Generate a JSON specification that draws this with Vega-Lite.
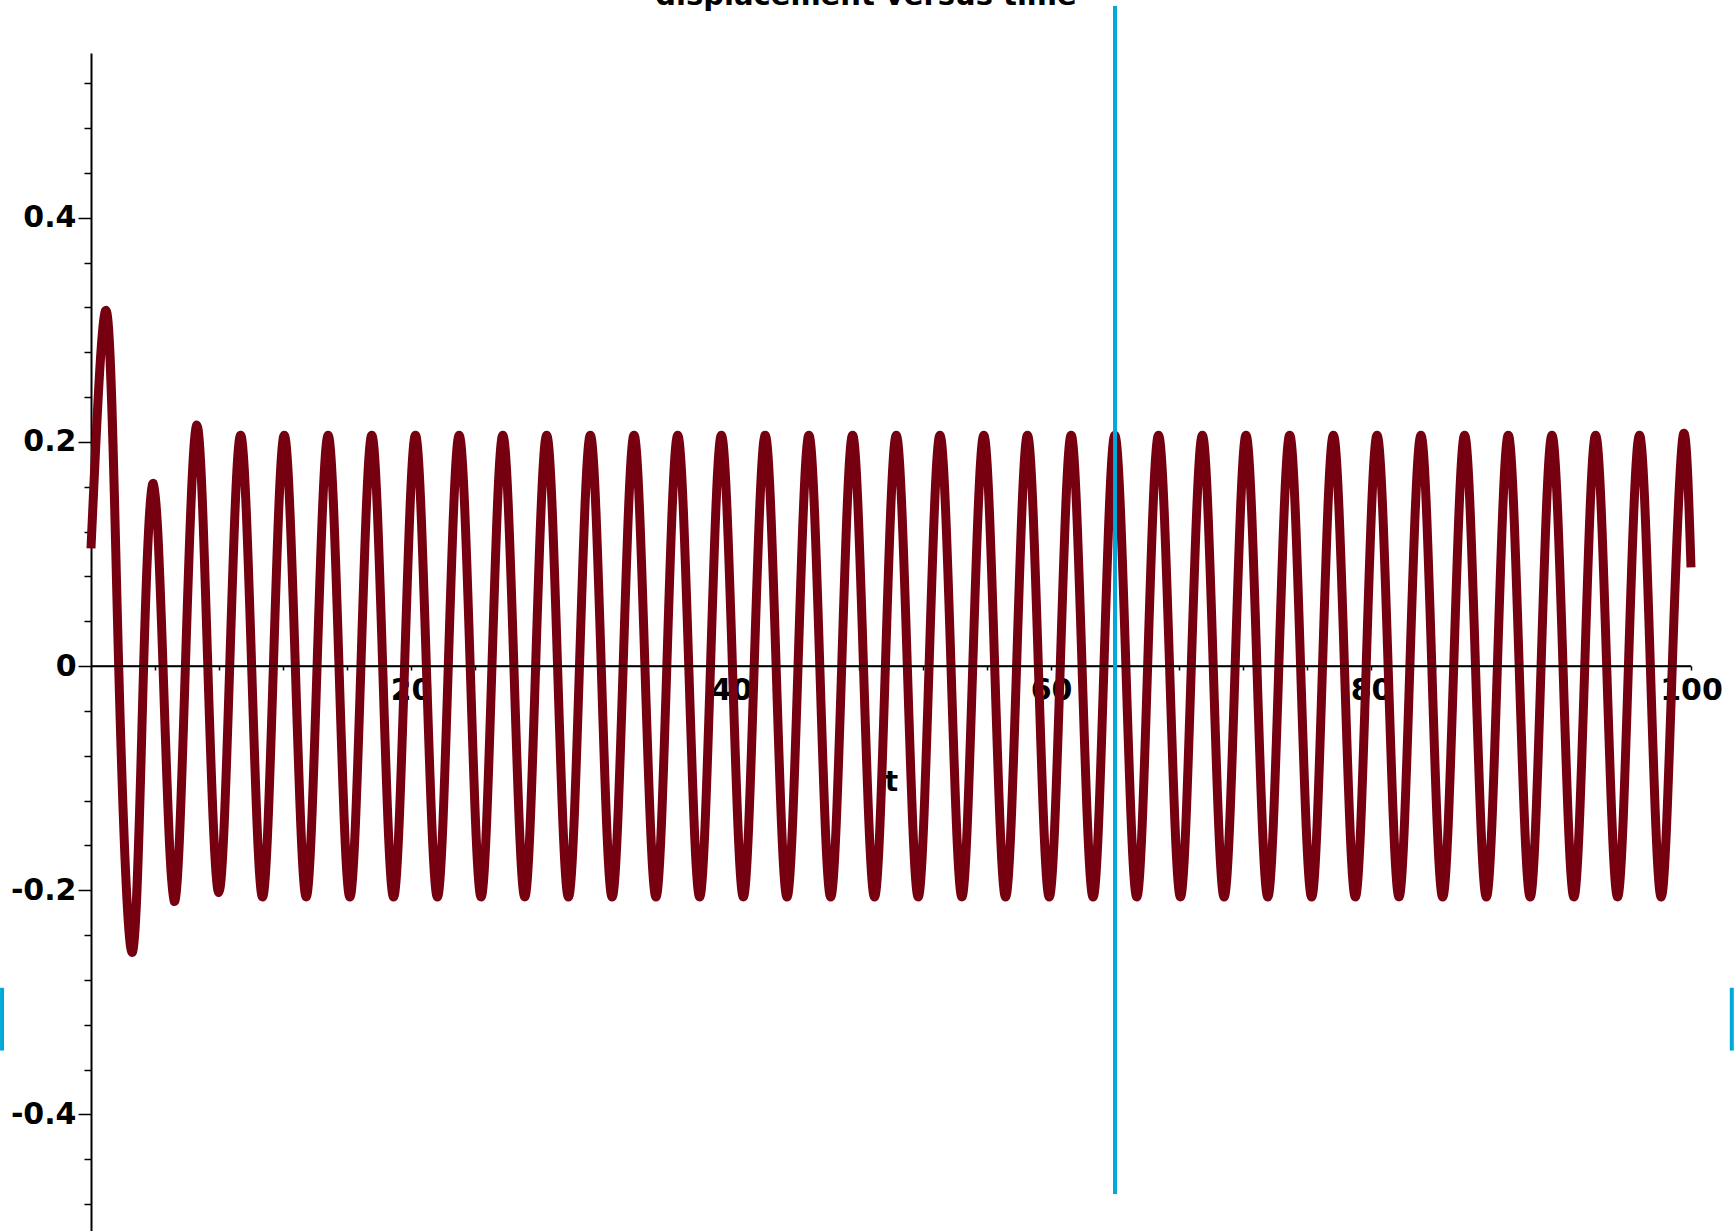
{
  "$schema": "https://vega.github.io/schema/vega-lite/v6.json",
  "width": 1600,
  "height": 1178,
  "autosize": {"type": "none"},
  "padding": {"left": 91, "top": 53, "right": 43, "bottom": 0},
  "background": "white",
  "config": {
    "view": {"stroke": null},
    "axis": {
      "labelFont": "DejaVu Sans", "labelFontWeight": "bold", "labelFontSize": 30, "labelColor": "black",
      "domainColor": "black", "tickColor": "black", "grid": false,
      "titleFont": "DejaVu Sans", "titleFontWeight": "bold", "titleFontSize": 28, "titleColor": "black"
    }
  },
  "title": {
    "text": "displacement versus time", "font": "DejaVu Sans", "fontWeight": "bold", "fontSize": 29,
    "color": "black", "anchor": "middle", "frame": "group", "baseline": "alphabetic", "offset": 0, "dx": -25, "dy": 30
  },
  "datasets": {
    "curve": [
      {"t":0,"y":0.105},{"t":1.0,"y":0.315},{"t":1.73,"y":0},{"t":2.6,"y":-0.255},{"t":3.29,"y":0},{"t":3.9,"y":0.163},{"t":4.5,"y":0},{"t":5.2,"y":-0.21},{"t":5.9,"y":0},
      {"t":6.62,"y":0.215},{"t":7.3,"y":0},{"t":7.99,"y":-0.202},{"t":8.67,"y":0},
      {"t":9.35,"y":0.206},{"t":10.04,"y":0},{"t":10.72,"y":-0.206},{"t":11.40,"y":0},
      {"t":12.08,"y":0.206},{"t":12.77,"y":0},{"t":13.45,"y":-0.206},{"t":14.13,"y":0},
      {"t":14.82,"y":0.206},{"t":15.50,"y":0},{"t":16.18,"y":-0.206},{"t":16.87,"y":0},
      {"t":17.55,"y":0.206},{"t":18.23,"y":0},{"t":18.91,"y":-0.206},{"t":19.60,"y":0},
      {"t":20.28,"y":0.206},{"t":20.96,"y":0},{"t":21.65,"y":-0.206},{"t":22.33,"y":0},
      {"t":23.01,"y":0.206},{"t":23.70,"y":0},{"t":24.38,"y":-0.206},{"t":25.06,"y":0},
      {"t":25.74,"y":0.206},{"t":26.43,"y":0},{"t":27.11,"y":-0.206},{"t":27.79,"y":0},
      {"t":28.48,"y":0.206},{"t":29.16,"y":0},{"t":29.84,"y":-0.206},{"t":30.53,"y":0},
      {"t":31.21,"y":0.206},{"t":31.89,"y":0},{"t":32.57,"y":-0.206},{"t":33.26,"y":0},
      {"t":33.94,"y":0.206},{"t":34.62,"y":0},{"t":35.31,"y":-0.206},{"t":35.99,"y":0},
      {"t":36.67,"y":0.206},{"t":37.36,"y":0},{"t":38.04,"y":-0.206},{"t":38.72,"y":0},
      {"t":39.40,"y":0.206},{"t":40.09,"y":0},{"t":40.77,"y":-0.206},{"t":41.45,"y":0},
      {"t":42.14,"y":0.206},{"t":42.82,"y":0},{"t":43.50,"y":-0.206},{"t":44.19,"y":0},
      {"t":44.87,"y":0.206},{"t":45.55,"y":0},{"t":46.23,"y":-0.206},{"t":46.92,"y":0},
      {"t":47.60,"y":0.206},{"t":48.28,"y":0},{"t":48.97,"y":-0.206},{"t":49.65,"y":0},
      {"t":50.33,"y":0.206},{"t":51.02,"y":0},{"t":51.70,"y":-0.206},{"t":52.38,"y":0},
      {"t":53.06,"y":0.206},{"t":53.75,"y":0},{"t":54.43,"y":-0.206},{"t":55.11,"y":0},
      {"t":55.80,"y":0.206},{"t":56.48,"y":0},{"t":57.16,"y":-0.206},{"t":57.85,"y":0},
      {"t":58.53,"y":0.206},{"t":59.21,"y":0},{"t":59.89,"y":-0.206},{"t":60.58,"y":0},
      {"t":61.26,"y":0.206},{"t":61.94,"y":0},{"t":62.63,"y":-0.206},{"t":63.31,"y":0},
      {"t":63.99,"y":0.206},{"t":64.68,"y":0},{"t":65.36,"y":-0.206},{"t":66.04,"y":0},
      {"t":66.72,"y":0.206},{"t":67.41,"y":0},{"t":68.09,"y":-0.206},{"t":68.77,"y":0},
      {"t":69.46,"y":0.206},{"t":70.14,"y":0},{"t":70.82,"y":-0.206},{"t":71.51,"y":0},
      {"t":72.19,"y":0.206},{"t":72.87,"y":0},{"t":73.55,"y":-0.206},{"t":74.24,"y":0},
      {"t":74.92,"y":0.206},{"t":75.60,"y":0},{"t":76.29,"y":-0.206},{"t":76.97,"y":0},
      {"t":77.65,"y":0.206},{"t":78.34,"y":0},{"t":79.02,"y":-0.206},{"t":79.70,"y":0},
      {"t":80.38,"y":0.206},{"t":81.07,"y":0},{"t":81.75,"y":-0.206},{"t":82.43,"y":0},
      {"t":83.12,"y":0.206},{"t":83.80,"y":0},{"t":84.48,"y":-0.206},{"t":85.17,"y":0},
      {"t":85.85,"y":0.206},{"t":86.53,"y":0},{"t":87.21,"y":-0.206},{"t":87.90,"y":0},
      {"t":88.58,"y":0.206},{"t":89.26,"y":0},{"t":89.95,"y":-0.206},{"t":90.63,"y":0},
      {"t":91.31,"y":0.206},{"t":92.00,"y":0},{"t":92.68,"y":-0.206},{"t":93.36,"y":0},
      {"t":94.04,"y":0.206},{"t":94.73,"y":0},{"t":95.41,"y":-0.206},{"t":96.09,"y":0},
      {"t":96.78,"y":0.206},{"t":97.46,"y":0},{"t":98.14,"y":-0.206},{"t":98.83,"y":0},
      {"t":99.51,"y":0.206},{"t":100,"y":0.088}
    ],
    "zeroline": [{"t":0,"t2":100,"y":0}],
    "cursor": [
      {"t":64.0,"y":0.589,"y2":-0.471},
      {"t":-5.56,"y":-0.287,"y2":-0.343},
      {"t":102.55,"y":-0.287,"y2":-0.343}
    ]
  },
  "layer": [
    {
      "data": {"name": "curve"},
      "mark": {"type": "line", "color": "#76000F", "strokeWidth": 9, "interpolate": "natural", "strokeJoin": "round"},
      "encoding": {
        "x": {
          "field": "t", "type": "quantitative",
          "scale": {"domain": [0, 100], "nice": false, "zero": false},
          "axis": {
            "orient": "bottom", "offset": -565,
            "values": [4,8,12,16,20,24,28,32,36,40,44,48,52,56,60,64,68,72,76,80,84,88,92,96,100],
            "labelExpr": "datum.value % 20 == 0 ? datum.label : ''",
            "tickSize": 4, "tickWidth": 1.5, "domainWidth": 1.5,
            "labelPadding": 5, "labelBaseline": "top", "labelFlush": false, "labelOverlap": false,
            "title": "t", "titleX": 800, "titleY": 124, "titleBaseline": "alphabetic", "titleAnchor": "middle", "titleAlign": "center",
            "zindex": 0
          }
        },
        "y": {
          "field": "y", "type": "quantitative",
          "scale": {"domain": [-0.504, 0.547], "nice": false, "zero": false},
          "axis": {
            "orient": "left",
            "values": [-0.48,-0.44,-0.4,-0.36,-0.32,-0.28,-0.24,-0.2,-0.16,-0.12,-0.08,-0.04,0,0.04,0.08,0.12,0.16,0.2,0.24,0.28,0.32,0.36,0.4,0.44,0.48,0.52],
            "labelExpr": "abs(datum.value*5 - round(datum.value*5)) > 0.001 ? '' : (abs(datum.value) < 0.001 ? '0' : (datum.value < 0 ? '-' + format(-datum.value, '.1f') : format(datum.value, '.1f')))",
            "tickSize": {"condition": {"test": "abs(datum.value*5 - round(datum.value*5)) < 0.001", "value": 13}, "value": 7},
            "tickWidth": 1.5, "domainWidth": 2,
            "labelPadding": 2, "labelBaseline": "middle", "labelFlush": false, "labelOverlap": false,
            "title": null, "zindex": 0
          }
        }
      }
    },
    {
      "data": {"name": "zeroline"},
      "mark": {"type": "rule", "color": "black", "strokeWidth": 1.5},
      "encoding": {
        "x": {"field": "t", "type": "quantitative", "title": "t"},
        "x2": {"field": "t2"},
        "y": {"field": "y", "type": "quantitative", "title": null}
      }
    },
    {
      "data": {"name": "cursor"},
      "mark": {"type": "rule", "color": "#00A9D9", "strokeWidth": 4},
      "encoding": {
        "x": {"field": "t", "type": "quantitative", "title": "t"},
        "y": {"field": "y", "type": "quantitative", "title": null},
        "y2": {"field": "y2"}
      }
    }
  ]
}
